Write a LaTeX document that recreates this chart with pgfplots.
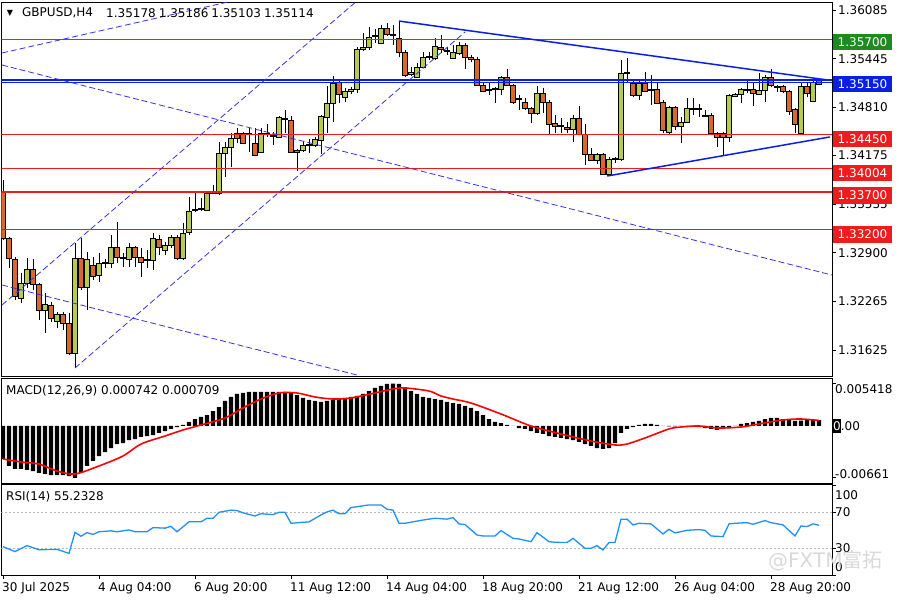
\documentclass[border=0pt]{standalone}
\usepackage{fontspec}
\setmainfont{DejaVu Sans}
\newfontfamily\cjk{Noto Sans CJK SC}
\usepackage{pgfplots}
\usepackage{pgfplotstable}
\pgfplotsset{compat=1.18}

\definecolor{bull}{HTML}{B7CC4E}
\definecolor{bear}{HTML}{D9692B}
\definecolor{lvgreen}{HTML}{1F8A1F}
\definecolor{lvblue}{HTML}{0A1EE6}
\definecolor{lvred}{HTML}{EE1C1C}
\definecolor{chan}{HTML}{3535E0}
\definecolor{rsiblue}{HTML}{1E90FF}
\newcommand\lf{\fontsize{12}{14}\selectfont}

% H4 candles, x = bar index
\pgfplotstableread{
i O H L C
0 1.33697 1.33854 1.33067 1.33093
1 1.33093 1.33107 1.32700 1.32831
2 1.32818 1.32844 1.32280 1.32332
3 1.32306 1.32634 1.32241 1.32503
4 1.32503 1.32831 1.32437 1.32687
5 1.32687 1.32818 1.32411 1.32490
6 1.32490 1.32503 1.32018 1.32149
7 1.32149 1.32372 1.31847 1.32228
8 1.32214 1.32254 1.31991 1.32044
9 1.32004 1.32123 1.31913 1.32096
10 1.32096 1.32123 1.31886 1.31978
11 1.31978 1.32109 1.31558 1.31585
12 1.31585 1.33028 1.31388 1.32831
13 1.32831 1.33093 1.32411 1.32451
14 1.32451 1.32910 1.32149 1.32818
15 1.32739 1.32844 1.32542 1.32595
16 1.32608 1.32897 1.32516 1.32765
17 1.32765 1.32818 1.32700 1.32778
18 1.32765 1.33133 1.32700 1.32975
19 1.32975 1.33303 1.32765 1.32844
20 1.32844 1.32897 1.32713 1.32831
21 1.32818 1.33028 1.32713 1.32975
22 1.32975 1.32988 1.32713 1.32844
23 1.32844 1.32962 1.32582 1.32779
24 1.32805 1.32936 1.32700 1.32818
25 1.32805 1.33159 1.32674 1.33093
26 1.33080 1.33133 1.32870 1.32975
27 1.32936 1.33041 1.32870 1.33002
28 1.33002 1.33133 1.32962 1.33107
29 1.33107 1.33133 1.32805 1.32831
30 1.32831 1.33290 1.32805 1.33159
31 1.33172 1.33631 1.33133 1.33448
32 1.33461 1.33684 1.33435 1.33474
33 1.33474 1.33618 1.33448 1.33487
34 1.33461 1.33697 1.33448 1.33684
35 1.33684 1.33789 1.33671 1.33697
36 1.33684 1.34353 1.33658 1.34209
37 1.34209 1.34353 1.33894 1.34287
38 1.34287 1.34471 1.34025 1.34405
39 1.34471 1.34537 1.34340 1.34405
40 1.34471 1.34484 1.34327 1.34340
41 1.34471 1.34537 1.34222 1.34458
42 1.34340 1.34537 1.34169 1.34182
43 1.34222 1.34537 1.34209 1.34471
44 1.34471 1.34589 1.34419 1.34458
45 1.34432 1.34484 1.34314 1.34445
46 1.34419 1.34694 1.34405 1.34681
47 1.34655 1.34773 1.34471 1.34668
48 1.34642 1.34694 1.34209 1.34222
49 1.34248 1.34261 1.33972 1.34222
50 1.34248 1.34366 1.34222 1.34314
51 1.34314 1.34392 1.34209 1.34327
52 1.34314 1.34419 1.34287 1.34392
53 1.34379 1.34707 1.34196 1.34694
54 1.34681 1.35088 1.34471 1.34865
55 1.34865 1.35219 1.34615 1.35127
56 1.35140 1.35166 1.34865 1.34983
57 1.34943 1.35061 1.34878 1.35022
58 1.35022 1.35075 1.34983 1.35048
59 1.35048 1.35599 1.34996 1.35573
60 1.35573 1.35783 1.35547 1.35599
61 1.35599 1.35862 1.35560 1.35731
62 1.35744 1.35836 1.35652 1.35757
63 1.35652 1.35888 1.35639 1.35849
64 1.35849 1.35914 1.35744 1.35770
65 1.35770 1.35888 1.35626 1.35757
66 1.35717 1.35940 1.35468 1.35534
67 1.35534 1.35560 1.35206 1.35232
68 1.35245 1.35337 1.35219 1.35271
69 1.35206 1.35389 1.35193 1.35337
70 1.35337 1.35534 1.35324 1.35468
71 1.35468 1.35534 1.35429 1.35481
72 1.35455 1.35717 1.35429 1.35612
73 1.35599 1.35757 1.35521 1.35573
74 1.35560 1.35599 1.35494 1.35547
75 1.35455 1.35626 1.35442 1.35534
76 1.35521 1.35665 1.35494 1.35626
77 1.35626 1.35652 1.35311 1.35468
78 1.35468 1.35494 1.35403 1.35442
79 1.35442 1.35468 1.35088 1.35101
80 1.35101 1.35127 1.35009 1.35022
81 1.35048 1.35127 1.34970 1.35035
82 1.35048 1.35075 1.34865 1.35061
83 1.35048 1.35219 1.34970 1.35206
84 1.35206 1.35311 1.35088 1.35101
85 1.35101 1.35114 1.34852 1.34878
86 1.34917 1.34970 1.34773 1.34930
87 1.34878 1.34930 1.34773 1.34799
88 1.34799 1.34812 1.34602 1.34733
89 1.34733 1.35088 1.34707 1.34996
90 1.34996 1.35061 1.34733 1.34878
91 1.34878 1.34904 1.34458 1.34589
92 1.34602 1.34707 1.34471 1.34563
93 1.34563 1.34668 1.34471 1.34576
94 1.34550 1.34615 1.34471 1.34524
95 1.34524 1.34707 1.34353 1.34668
96 1.34668 1.34825 1.34445 1.34458
97 1.34458 1.34589 1.34051 1.34196
98 1.34196 1.34274 1.34104 1.34117
99 1.34117 1.34209 1.34064 1.34196
100 1.34196 1.34209 1.33920 1.33933
101 1.33933 1.34156 1.33920 1.34130
102 1.34130 1.34156 1.34077 1.34143
103 1.34130 1.35429 1.34104 1.35258
104 1.35258 1.35455 1.35140 1.35271
105 1.35127 1.35166 1.34943 1.34970
106 1.34970 1.35166 1.34904 1.35127
107 1.35127 1.35271 1.35009 1.35022
108 1.35048 1.35232 1.34838 1.35035
109 1.35048 1.35140 1.34852 1.34865
110 1.34878 1.34904 1.34471 1.34510
111 1.34484 1.34825 1.34445 1.34812
112 1.34812 1.34825 1.34510 1.34563
113 1.34563 1.34681 1.34340 1.34615
114 1.34615 1.34930 1.34602 1.34799
115 1.34799 1.34930 1.34707 1.34786
116 1.34799 1.34852 1.34681 1.34786
117 1.34707 1.34773 1.34681 1.34694
118 1.34707 1.34733 1.34458 1.34471
119 1.34471 1.34484 1.34287 1.34419
120 1.34471 1.34484 1.34169 1.34419
121 1.34419 1.34983 1.34353 1.34970
122 1.34956 1.34996 1.34943 1.34983
123 1.34983 1.35061 1.34865 1.35048
124 1.35048 1.35180 1.34996 1.35035
125 1.35048 1.35140 1.34825 1.34996
126 1.34983 1.35258 1.34970 1.35035
127 1.35035 1.35232 1.34878 1.35206
128 1.35206 1.35311 1.35075 1.35101
129 1.35075 1.35101 1.35009 1.35088
130 1.35088 1.35101 1.34996 1.35022
131 1.35022 1.35035 1.34707 1.34760
132 1.34786 1.34799 1.34471 1.34589
133 1.34471 1.35140 1.34458 1.35088
134 1.35088 1.35140 1.34943 1.34996
135 1.34891 1.35193 1.34878 1.35140
136 1.35178 1.35186 1.35103 1.35114
}\candles

% MACD histogram
\pgfplotstableread{
i v
0 -0.00421
1 -0.00510
2 -0.00548
3 -0.00548
4 -0.00561
5 -0.00574
6 -0.00599
7 -0.00612
8 -0.00625
9 -0.00625
10 -0.00625
11 -0.00638
12 -0.00661
13 -0.00599
14 -0.00510
15 -0.00446
16 -0.00383
17 -0.00332
18 -0.00281
19 -0.00230
20 -0.00217
21 -0.00179
22 -0.00166
23 -0.00140
24 -0.00128
25 -0.00115
26 -0.00089
27 -0.00064
28 -0.00038
29 -0.00013
30 0.00013
31 0.00051
32 0.00089
33 0.00115
34 0.00140
35 0.00191
36 0.00242
37 0.00319
38 0.00370
39 0.00408
40 0.00421
41 0.00434
42 0.00434
43 0.00434
44 0.00434
45 0.00434
46 0.00434
47 0.00434
48 0.00421
49 0.00395
50 0.00357
51 0.00332
52 0.00319
53 0.00306
54 0.00319
55 0.00332
56 0.00344
57 0.00357
58 0.00370
59 0.00383
60 0.00408
61 0.00446
62 0.00485
63 0.00510
64 0.00536
65 0.005418
66 0.00536
67 0.00497
68 0.00446
69 0.00408
70 0.00370
71 0.00357
72 0.00344
73 0.00332
74 0.00306
75 0.00293
76 0.00281
77 0.00255
78 0.00230
79 0.00191
80 0.00140
81 0.00089
82 0.00051
83 0.00038
84 0.00013
85 0.00000
86 -0.00026
87 -0.00038
88 -0.00064
89 -0.00089
90 -0.00102
91 -0.00128
92 -0.00140
93 -0.00153
94 -0.00166
95 -0.00179
96 -0.00204
97 -0.00230
98 -0.00255
99 -0.00281
100 -0.00293
101 -0.00281
102 -0.00217
103 -0.00089
104 -0.00038
105 -0.00013
106 0.00013
107 0.00026
108 0.00026
109 0.00013
110 0.00002
111 -0.00006
112 -0.00006
113 0.00002
114 0.00002
115 0.00002
116 -0.00013
117 -0.00026
118 -0.00038
119 -0.00051
120 -0.00038
121 -0.00026
122 0.00002
123 0.00026
124 0.00038
125 0.00051
126 0.00064
127 0.00089
128 0.00102
129 0.00102
130 0.00089
131 0.00077
132 0.00064
133 0.00070
134 0.00077
135 0.00077
136 0.000742
}\macdhist

% MACD signal line
\pgfplotstableread{
i v
0 -0.00421
3 -0.00459
6 -0.00485
9 -0.00574
12 -0.00612
16 -0.00510
20 -0.00383
23 -0.00230
27 -0.00128
30 -0.00051
33 0.00013
37 0.00102
40 0.00230
43 0.00344
46 0.00421
49 0.00421
52 0.00370
55 0.00344
58 0.00357
62 0.00421
65 0.00472
67 0.00485
71 0.00446
73 0.00383
75 0.00344
78 0.00293
83 0.00153
88 0.00000
93 -0.00102
98 -0.00191
102 -0.00242
104 -0.00230
107 -0.00153
111 -0.00038
113 -0.00013
116 0.00000
119 -0.00026
123 -0.00013
126 0.00026
130 0.00077
133 0.00089
136 0.000709
}\macdsig

% RSI(14)
\pgfplotstableread{
i v
0 31.5
2 26
4 32.6
6 28
9 28.5
11 24
12 47.4
13 43
14 47
15 45
16 48
18 49
19 48
21 50
22 48
24 48
25 52.6
27 52
28 54
29 48
31 59
33 59
34 63
35 63
36 69.6
38 72
39 71.5
40 69
42 65.5
43 68
45 67
46 69.6
47 69.6
48 57.4
50 58.5
51 58.9
53 66.7
54 70
55 72
56 68
57 68
58 74.8
61 77.8
63 77.8
64 73
65 72
66 57.4
67 57.4
70 61
72 63
74 62
75 63.7
76 56.7
77 56
79 44.4
80 43.3
82 43.3
83 49.3
85 40.7
86 40
88 37
89 47
91 37
92 36.3
94 36
95 40.7
97 29.6
98 29.6
99 32.6
100 27.8
101 36
102 36
103 61.9
104 62
105 55.6
106 57.4
108 56.7
110 45.6
111 50.7
112 46.7
114 49.6
116 50.4
117 49.6
118 43.3
120 42.6
121 56.7
122 57.4
124 58.1
125 56.3
127 60.4
128 58.1
130 55.6
132 43.3
133 54.4
134 53.7
135 56.7
136 55.23
}\rsi

\pgfplotsset{
  panel/.style={
    scale only axis, anchor=south west, width=830.5pt,
    xmin=-0.25, xmax=138.17,
    axis line style={black, line width=0.8pt},
    ytick pos=right, tick align=outside, major tick length=4pt,
    tick style={black, line width=0.8pt},
    yticklabel=\empty, scaled y ticks=false,
    tick label style={font=\lf},
  },
  chanline/.style={chan, line width=0.8pt, dash pattern=on 6pt off 3pt},
}

\begin{document}
\begin{tikzpicture}[x=1pt,y=1pt]
\fill[white] (0,0) rectangle (900,600);

% price panel
\begin{axis}[panel, at={(1.5pt,224pt)}, height=374pt,
  ymin=1.31283, ymax=1.36190, xtick=\empty,
  ytick={1.31625,1.32265,1.329,1.33535,1.34175,1.3481,1.35445,1.36085}]
\pgfplotstablegetrowsof{\candles}
\pgfmathtruncatemacro\nrows{\pgfplotsretval-1}
\pgfplotsforeachungrouped \r in {0,...,\nrows}{%
  \pgfplotstablegetelem{\r}{i}\of\candles \let\ci\pgfplotsretval
  \pgfplotstablegetelem{\r}{O}\of\candles \let\co\pgfplotsretval
  \pgfplotstablegetelem{\r}{H}\of\candles \let\ch\pgfplotsretval
  \pgfplotstablegetelem{\r}{L}\of\candles \let\cl\pgfplotsretval
  \pgfplotstablegetelem{\r}{C}\of\candles \let\cc\pgfplotsretval
  \pgfmathsetmacro\xa{\ci-0.38}%
  \pgfmathsetmacro\xb{\ci+0.38}%
  \ifdim\cc pt<\co pt \def\cf{bear}\else\def\cf{bull}\fi
  \edef\doit{%
    \noexpand\addplot[black, line width=0.9pt, forget plot] coordinates {(\ci,\cl) (\ci,\ch)};
    \noexpand\addplot[draw=black, fill=\cf, line width=0.7pt, forget plot]
      coordinates {(\xa,\co) (\xb,\co) (\xb,\cc) (\xa,\cc)} -- cycle;
  }%
  \doit
}
% horizontal levels
\addplot[lvgreen, line width=1.2pt] coordinates {(-0.25,1.357) (138.17,1.357)};
\addplot[lvblue, line width=2pt] coordinates {(-0.25,1.35163) (138.17,1.35163)};
\addplot[lvblue, line width=1pt] coordinates {(-0.25,1.35130) (138.17,1.35130)};
\addplot[lvred, line width=1.2pt] coordinates {(-0.25,1.3445) (138.17,1.3445)};
\addplot[lvred, line width=1.2pt] coordinates {(-0.25,1.34004) (138.17,1.34004)};
\addplot[lvred, line width=1.8pt] coordinates {(-0.25,1.337) (138.17,1.337)};
\addplot[lvred, line width=1.2pt] coordinates {(-0.25,1.332) (138.17,1.332)};
% triangle
\addplot[lvblue, line width=1.5pt] coordinates {(66,1.35940) (137.5,1.35166)};
\addplot[lvblue, line width=1.5pt] coordinates {(100.7,1.33907) (137.8,1.34419)};
% dashed channels
\addplot[chanline] coordinates {(-0.17,1.35521) (37.5,1.36190)};
\addplot[chanline] coordinates {(-0.17,1.35363) (138.17,1.32608)};
\addplot[chanline] coordinates {(-0.17,1.32477) (59,1.31296)};
\addplot[chanline] coordinates {(12,1.31388) (77,1.35796)};
\addplot[chanline] coordinates {(-0.17,1.32214) (58.8,1.36190)};
\end{axis}

% MACD panel
\begin{axis}[panel, at={(1.5pt,117pt)}, height=105pt,
  ymin=-0.00727, ymax=0.00612, xtick=\empty,
  ytick={-0.00661,0,0.005418}]
\addplot[ybar, bar width=4.4pt, fill=black, draw=none] table[x=i, y=v] {\macdhist};
\addplot[red, line width=1.6pt, smooth] table[x=i, y=v] {\macdsig};
\end{axis}

% RSI panel
\begin{axis}[panel, at={(1.5pt,25pt)}, height=91pt,
  ymin=0, ymax=101, ytick={0,30,70,100},
  xtick={0,16,32,48,64,80,96,112,128}, xtick pos=lower,
  xticklabels={30 Jul 2025, 4 Aug 04:00, 6 Aug 20:00, 11 Aug 12:00, 14 Aug 04:00,
    18 Aug 20:00, 21 Aug 12:00, 26 Aug 04:00, 28 Aug 20:00},
  xticklabel style={anchor=north west, inner sep=0pt, yshift=-3pt, xshift=-1pt}]
\addplot[gray!55, line width=0.6pt, dash pattern=on 2pt off 2pt] coordinates {(-0.25,70) (138.17,70)};
\addplot[gray!55, line width=0.6pt, dash pattern=on 2pt off 2pt] coordinates {(-0.25,30) (138.17,30)};
\addplot[rsiblue, line width=1.3pt] table[x=i, y=v] {\rsi};
\end{axis}

% header and panel captions
\node[font=\fontsize{8}{9}\selectfont, inner sep=0pt] at (10,587) {▼};
\node[font=\lf, anchor=west, inner sep=0pt] at (22,587) {GBPUSD,H4};
\node[font=\lf, anchor=west, inner sep=0pt] at (106,587)
  {1.35178\hspace{3pt}1.35186\hspace{3pt}1.35103\hspace{3pt}1.35114};
\node[font=\lf, anchor=west, inner sep=0pt] at (6,209) {MACD(12,26,9) 0.000742 0.000709};
\node[font=\lf, anchor=west, inner sep=0pt] at (6,103) {RSI(14) 55.2328};

% price scale
\foreach \yy/\tt in {590/1.36085, 541.2/1.35445, 493/1.34810, 444.5/1.34175,
  395.7/1.33535, 347.3/1.32900, 299/1.32265, 250/1.31625}
  \node[font=\lf, anchor=west, inner sep=0pt] at (838,\yy) {\tt};
\foreach \yy/\cl/\tt in {558/lvgreen/1.35700, 516/lvblue/1.35150, 461/lvred/1.34450,
  427/lvred/1.34004, 404.5/lvred/1.33700, 365.5/lvred/1.33200}
  \node[font=\lf, anchor=west, fill=\cl, text=white, inner xsep=4.5pt,
    minimum height=16.5pt] at (833,\yy) {\tt};

% indicator scales
\node[font=\lf, anchor=west, inner sep=0pt] at (835,211) {0.005418};
\fill[black] (832,167) rectangle (841,181);
\node[font=\lf, anchor=west, inner sep=0pt] at (833,174) {\textcolor{white}{0}.00};
\node[font=\lf, anchor=west, inner sep=0pt] at (835,126) {-0.00661};
\node[font=\lf, anchor=west, inner sep=0pt] at (835,105) {100};
\node[font=\lf, anchor=west, inner sep=0pt] at (835,88) {70};
\node[font=\lf, anchor=west, inner sep=0pt] at (835,52) {30};
\node[font=\lf, anchor=west, inner sep=0pt] at (835,33) {0};

% watermark
\node[font=\fontsize{20}{22}\selectfont, text=gray!30, anchor=west, inner sep=0pt]
  at (768,39) {@FXTM{\cjk 富拓}};
\end{tikzpicture}
\end{document}
